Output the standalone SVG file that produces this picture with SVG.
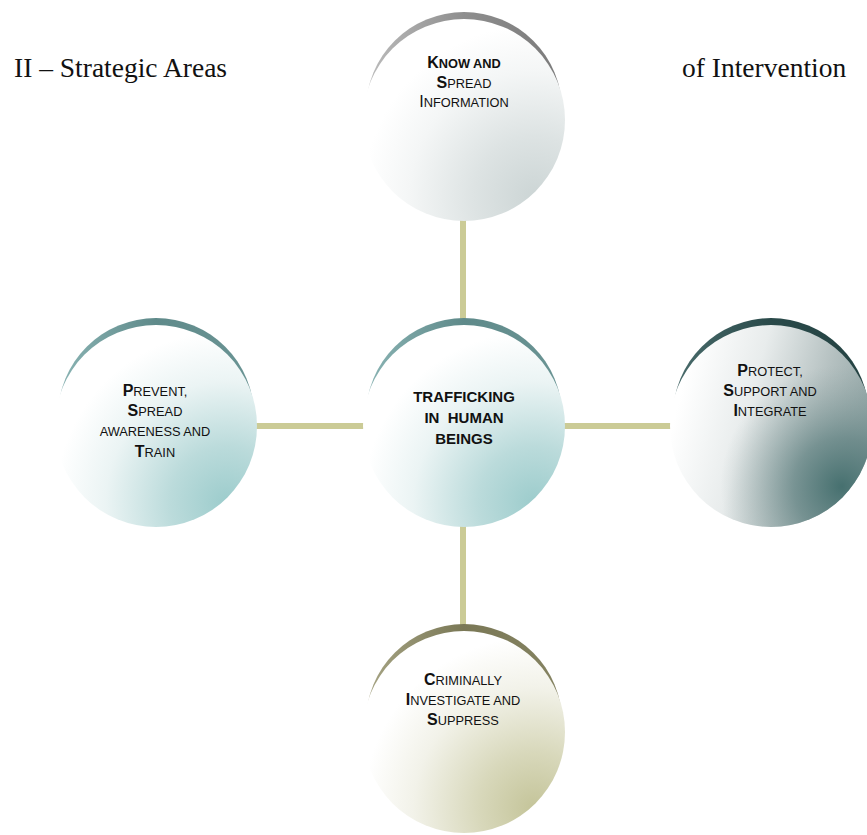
<svg xmlns="http://www.w3.org/2000/svg" width="867" height="835" viewBox="0 0 867 835">
<style>
.title{font-family:"Liberation Serif","Times New Roman",serif;font-size:27.5px;fill:#111}
.lbl{font-family:"Liberation Sans",Arial,sans-serif;fill:#111;text-anchor:middle}
.b{font-size:16px;font-weight:bold}
.s{font-size:12.8px;font-weight:normal}
.sb{font-size:12.8px;font-weight:bold}
.big{font-size:16px;font-weight:normal}
.ctr{font-family:"Liberation Sans",Arial,sans-serif;font-size:15px;font-weight:bold;fill:#111;text-anchor:middle;white-space:pre}
.conn{stroke:#cbcb96;stroke-width:6;fill:none}
</style>
<defs>
<radialGradient id="gGray" cx="0.85" cy="0.88" r="1">
<stop offset="0" stop-color="#ccd5d5"/><stop offset="0.3" stop-color="#dde3e3"/><stop offset="0.62" stop-color="#f4f6f6"/><stop offset="0.85" stop-color="#ffffff"/>
</radialGradient>
<radialGradient id="gTeal" cx="0.85" cy="0.88" r="1">
<stop offset="0" stop-color="#9ccccc"/><stop offset="0.28" stop-color="#bbdbdb"/><stop offset="0.6" stop-color="#ebf4f4"/><stop offset="0.85" stop-color="#ffffff"/>
</radialGradient>
<linearGradient id="gDarkBase" x1="0.05" y1="0.35" x2="1" y2="0.6">
<stop offset="0" stop-color="#ffffff"/><stop offset="0.35" stop-color="#e8ecec"/><stop offset="0.7" stop-color="#b4c0c0"/><stop offset="1" stop-color="#8ea2a2"/>
</linearGradient>
<radialGradient id="gDarkOver" cx="0.85" cy="0.8" r="0.6">
<stop offset="0" stop-color="#46706f" stop-opacity="1"/><stop offset="0.4" stop-color="#5e8080" stop-opacity="0.7"/><stop offset="1" stop-color="#8ea2a2" stop-opacity="0"/>
</radialGradient>
<radialGradient id="gKhaki" cx="0.85" cy="0.88" r="1">
<stop offset="0" stop-color="#c4c499"/><stop offset="0.28" stop-color="#d8d8bb"/><stop offset="0.6" stop-color="#f2f2e9"/><stop offset="0.85" stop-color="#ffffff"/>
</radialGradient>
<linearGradient id="cGray" x1="0" y1="0" x2="1" y2="0">
<stop offset="0" stop-color="#bcbcbc"/><stop offset="0.5" stop-color="#8e8e8e"/><stop offset="1" stop-color="#7a7a7a"/>
</linearGradient>
<linearGradient id="cTeal" x1="0" y1="0" x2="1" y2="0">
<stop offset="0" stop-color="#8ab4b4"/><stop offset="0.5" stop-color="#5f8a8a"/><stop offset="1" stop-color="#6a9494"/>
</linearGradient>
<linearGradient id="cDark" x1="0" y1="0" x2="1" y2="0">
<stop offset="0" stop-color="#4a6c6c"/><stop offset="0.5" stop-color="#2a4a4a"/><stop offset="1" stop-color="#244242"/>
</linearGradient>
<linearGradient id="cKhaki" x1="0" y1="0" x2="1" y2="0">
<stop offset="0" stop-color="#a6a484"/><stop offset="0.5" stop-color="#7a7856"/><stop offset="1" stop-color="#858362"/>
</linearGradient>
</defs>
<rect width="867" height="835" fill="#ffffff"/>
<text class="title" x="14" y="77">II – Strategic Areas</text>
<text class="title" x="682" y="77">of Intervention</text>
<g id="connectors">
<line class="conn" x1="463" y1="215" x2="463" y2="325"/>
<line class="conn" x1="463" y1="525" x2="463" y2="630"/>
<line class="conn" x1="250" y1="426" x2="365" y2="426"/>
<line class="conn" x1="562" y1="426" x2="675" y2="426"/>
</g>
<g id="node-know">
<circle cx="464" cy="110" r="98" fill="url(#cGray)"/>
<circle cx="464" cy="120" r="101" fill="url(#gGray)"/>
<text class="lbl" x="464" y="68"><tspan class="b">K</tspan><tspan class="sb">NOW AND</tspan></text>
<text class="lbl" x="464" y="87.5"><tspan class="b">S</tspan><tspan class="s">PREAD</tspan></text>
<text class="lbl" x="464" y="107"><tspan class="big">I</tspan><tspan class="s">NFORMATION</tspan></text>
</g>
<g id="node-center">
<circle cx="464" cy="416" r="98" fill="url(#cTeal)"/>
<circle cx="464" cy="426" r="101" fill="url(#gTeal)"/>
<text class="ctr" x="464" y="401.5">TRAFFICKING</text>
<text class="ctr" x="464" y="422.5" xml:space="preserve">IN  HUMAN</text>
<text class="ctr" x="464" y="443.5">BEINGS</text>
</g>
<g id="node-prevent">
<circle cx="156" cy="416" r="98" fill="url(#cTeal)"/>
<circle cx="156" cy="426" r="101" fill="url(#gTeal)"/>
<text class="lbl" x="155" y="396"><tspan class="b">P</tspan><tspan class="s">REVENT,</tspan></text>
<text class="lbl" x="155" y="416"><tspan class="b">S</tspan><tspan class="s">PREAD</tspan></text>
<text class="lbl" x="155" y="436"><tspan class="s">AWARENESS AND</tspan></text>
<text class="lbl" x="155" y="456.5"><tspan class="b">T</tspan><tspan class="s">RAIN</tspan></text>
</g>
<g id="node-protect">
<circle cx="771" cy="416" r="98" fill="url(#cDark)"/>
<circle cx="771" cy="426" r="101" fill="url(#gDarkBase)"/>
<circle cx="771" cy="426" r="101" fill="url(#gDarkOver)"/>
<text class="lbl" x="770" y="376"><tspan class="b">P</tspan><tspan class="s">ROTECT,</tspan></text>
<text class="lbl" x="770" y="396"><tspan class="b">S</tspan><tspan class="s">UPPORT AND</tspan></text>
<text class="lbl" x="770" y="415.5"><tspan class="b">I</tspan><tspan class="s">NTEGRATE</tspan></text>
</g>
<g id="node-criminal">
<circle cx="464" cy="722" r="98" fill="url(#cKhaki)"/>
<circle cx="464" cy="732" r="101" fill="url(#gKhaki)"/>
<text class="lbl" x="463" y="685"><tspan class="b">C</tspan><tspan class="s">RIMINALLY</tspan></text>
<text class="lbl" x="463" y="704.5"><tspan class="b">I</tspan><tspan class="s">NVESTIGATE AND</tspan></text>
<text class="lbl" x="463" y="725"><tspan class="b">S</tspan><tspan class="s">UPPRESS</tspan></text>
</g>
</svg>
